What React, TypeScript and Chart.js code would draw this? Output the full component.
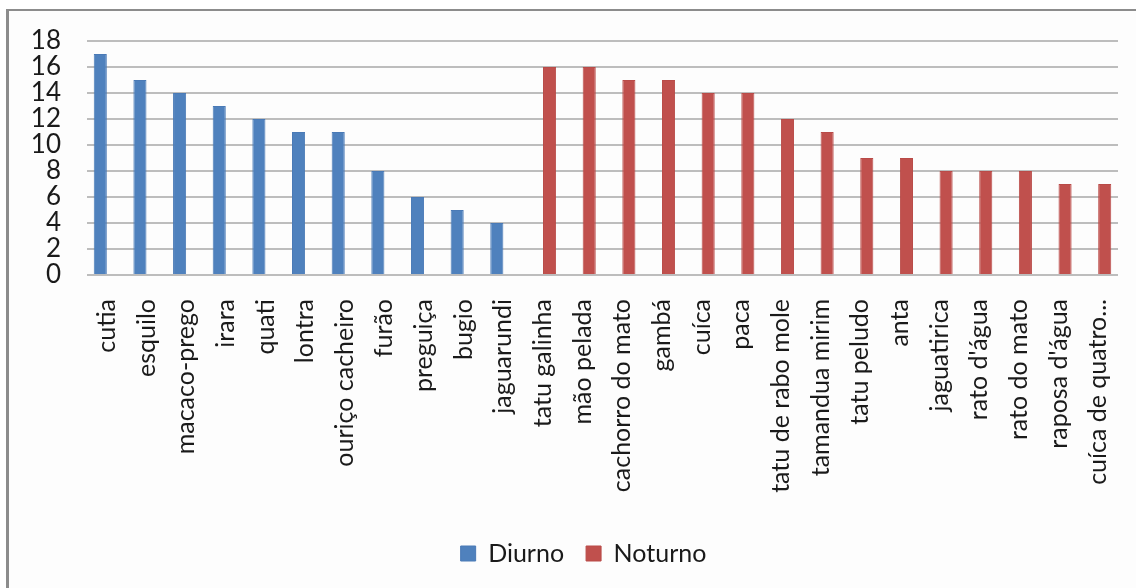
import React, { useEffect, useRef } from "react";
import { Chart, registerables } from "chart.js";

Chart.register(...registerables);

// Species grouped by activity period
const categories: string[] = [
  "cutia", "esquilo", "macaco-prego", "irara", "quati", "lontra",
  "ouriço cacheiro", "furão", "preguiça", "bugio", "jaguarundi",
  "tatu galinha", "mão pelada", "cachorro do mato", "gambá", "cuíca",
  "paca", "tatu de rabo mole", "tamandua mirim", "tatu peludo", "anta",
  "jaguatirica", "rato d'água", "rato do mato", "raposa d'água",
  "cuíca de quatro...",
];

const diurno: (number | null)[] = [
  17, 15, 14, 13, 12, 11, 11, 8, 6, 5, 4,
  null, null, null, null, null, null, null, null, null, null, null, null, null, null, null,
];

const noturno: (number | null)[] = [
  null, null, null, null, null, null, null, null, null, null, null,
  16, 16, 15, 15, 14, 14, 12, 11, 9, 9, 8, 8, 8, 7, 7,
];

const yTicks: number[] = [0, 2, 4, 6, 8, 10, 12, 14, 16, 18];

const FONT = "Lato, 'Open Sans', sans-serif";
const TEXT = "#1a1a1a";

// Nudges the bottom legend a little to the right of the canvas centre
const legendShift = {
  id: "legendShift",
  afterLayout(chart: any) {
    const lg = chart.legend;
    if (lg) {
      lg.left += 20;
      lg.right += 20;
    }
  },
};

export default function App() {
  const canvasRef = useRef<HTMLCanvasElement | null>(null);

  useEffect(() => {
    const canvas = canvasRef.current;
    if (!canvas) return;
    const chart = new Chart(canvas, {
      type: "bar",
      data: {
        labels: categories,
        datasets: [
          {
            label: "Diurno",
            data: diurno,
            backgroundColor: "#4F81BD",
            borderColor: "#4A7AB6",
            borderWidth: 1,
            categoryPercentage: 0.66,
            barPercentage: 1,
          },
          {
            label: "Noturno",
            data: noturno,
            backgroundColor: "#C0504D",
            borderColor: "#B94B48",
            borderWidth: 1,
            categoryPercentage: 0.66,
            barPercentage: 1,
          },
        ],
      },
      plugins: [legendShift],
      options: {
        animation: false,
        responsive: false,
        maintainAspectRatio: false,
        layout: { padding: { left: 0, right: 18, top: 30, bottom: 12 } },
        plugins: {
          tooltip: { enabled: false },
          legend: {
            position: "bottom",
            labels: {
              boxWidth: 15,
              boxHeight: 15,
              padding: 22,
              color: TEXT,
              font: { family: FONT, size: 25 },
            },
          },
        },
        scales: {
          x: {
            grid: { display: false, drawTicks: false },
            border: { display: false },
            ticks: {
              autoSkip: false,
              minRotation: 90,
              maxRotation: 90,
              padding: 24,
              color: TEXT,
              font: { family: FONT, size: 25 },
            },
            afterFit: (scale: any) => {
              scale.height = 244;
              scale.paddingLeft = 0;
              scale.paddingRight = 0;
            },
          },
          y: {
            min: 0,
            max: 18,
            afterBuildTicks: (scale: any) => {
              scale.ticks = yTicks.map((v) => ({ value: v }));
            },
            grid: { color: "#bdbdbd", lineWidth: 2, drawTicks: false },
            border: { display: false },
            ticks: {
              autoSkip: false,
              padding: 26,
              color: TEXT,
              font: { family: FONT, size: 26 },
            },
            afterFit: (scale: any) => {
              scale.width = 78;
              scale.paddingTop = 0;
              scale.paddingBottom = 0;
            },
          },
        },
      },
    });
    return () => chart.destroy();
  }, []);

  return (
    <div
      style={{
        position: "fixed",
        left: 6,
        top: 9,
        right: 0,
        bottom: 0,
        borderTop: "2px solid #8c8c8c",
        borderLeft: "3px solid #8c8c8c",
        background: "#fdfdfd",
      }}
    >
      <canvas ref={canvasRef} width={1127} height={577} style={{ display: "block" }} />
    </div>
  );
}
